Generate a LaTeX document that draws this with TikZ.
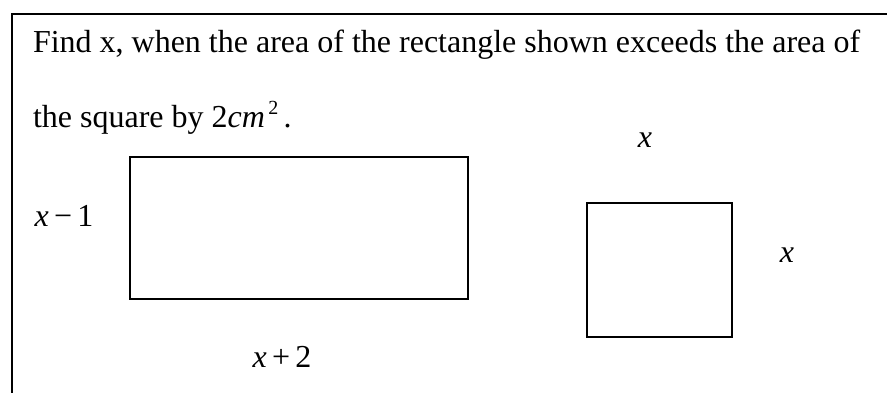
\documentclass[tikz,border=0pt]{standalone}
\usepackage{fontspec}
\setmainfont{Liberation Serif}
\usetikzlibrary{positioning}

\begin{document}
\begin{tikzpicture}
        [x=1pt,y=-1pt,
        every node/.style={inner sep=0pt,outer sep=0pt,font=\fontsize{32}{38}\selectfont},
        txt/.style={anchor=base west},
        lbl/.style={anchor=base},
        box/.style={draw,line width=1.8pt,minimum width=#1}]
        \useasboundingbox (0,0) rectangle (887,393);
        % frame
        \draw[line width=2pt] (887,14) -- (12,14) -- (12,393);
        \node[txt] (line1) at (33,53) {Find x, when the area of the rectangle shown exceeds the area of};
        \node[txt] (line2) at (33,128) {the square by 2\textit{cm}\raisebox{0.42em}{\fontsize{20}{20}\selectfont\,2}\,.};
        % shapes
        \node[box=338pt,minimum height=142pt] (rect) at (299,228) {};
        \node[box=145pt,minimum height=134pt] (sq) at (659.5,270) {};
        % labels
        \node[lbl] (lh) at (64,226) {\textit{x}\,−\,1};
        \node[lbl] (lw) at (282,367) {\textit{x}\,+\,2};
        \node[lbl] (st) at (645,148) {\textit{x}};
        \node[lbl] (ss) at (787,262) {\textit{x}};
\end{tikzpicture}
\end{document}
